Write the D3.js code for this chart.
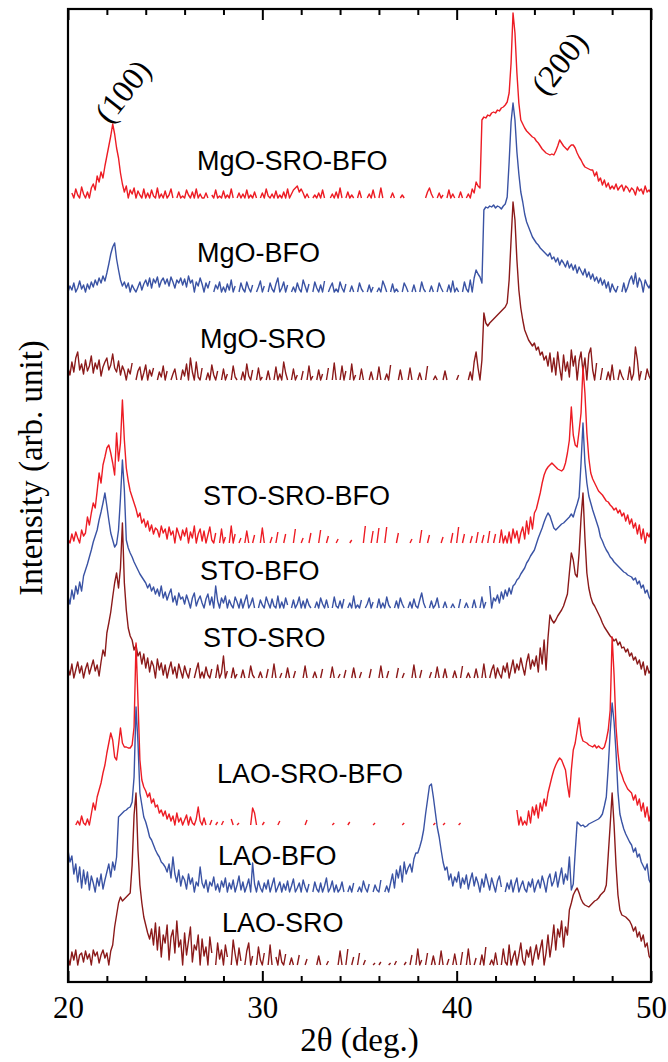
<!DOCTYPE html>
<html>
<head>
<meta charset="utf-8">
<script src="https://cdn.jsdelivr.net/npm/d3@7/dist/d3.min.js"></script>
<style>
  html, body { margin: 0; padding: 0; background: #fff; }
  svg { display: block; }
</style>
</head>
<body>
<div id="chart"></div>
<script>
// _ = no counts at that angle (the trace breaks there)
const _ = null;

// scan grid: 20.0 .. 50.0 deg, 0.1 deg step
const thetaStart = 20;
const thetaStep = 0.1;

const seriesNames = ['MgO-SRO-BFO', 'MgO-BFO', 'MgO-SRO', 'STO-SRO-BFO', 'STO-BFO', 'STO-SRO', 'LAO-SRO-BFO', 'LAO-BFO', 'LAO-SRO'];
const seriesColors = ['#ed1c24', '#3a53a4', '#8b1a1a', '#ed1c24', '#3a53a4', '#8b1a1a', '#ed1c24', '#3a53a4', '#8b1a1a'];
// vertical shift of each pattern (arb. unit)
const seriesOffsets = [784, 690, 602, 439, 374, 304, 157, 90, 17];

// intensities, one row per degree
const mgoSroBfo = [
  _,_,5,0,9,3,0,11,4,0,
  6,0,10,14,8,22,16,26,20,32,
  42,52,62,74,64,50,40,25,14,6,
  12,0,8,4,10,0,7,3,0,9,
  0,5,0,8,2,0,10,0,4,0,
  7,0,3,9,0,_,0,6,0,2,
  0,8,3,0,6,0,9,0,4,0,
  0,5,0,_,3,0,8,0,2,0,
  7,0,3,0,9,0,_,0,5,0,
  4,0,8,0,3,0,6,0,_,0,
  5,0,9,2,0,4,0,7,0,3,
  0,6,0,9,0,4,8,10,12,6,
  9,5,0,4,0,_,0,3,0,5,
  0,8,0,_,_,0,4,0,6,0,
  10,0,_,0,6,0,3,0,_,0,
  7,0,_,_,0,4,0,8,0,_,
  0,10,0,_,_,_,0,5,0,_,
  _,0,3,0,_,_,_,_,_,_,
  _,_,_,_,0,6,10,4,0,_,
  0,5,0,3,_,0,8,0,4,0,
  _,0,6,0,_,0,4,0,9,5,
  16,12,10,78,81,80,83,82,85,86,
  85,88,87,90,91,93,96,105,135,185,
  165,125,95,78,74,70,67,65,63,61,
  60,57,55,52,49,47,45,44,43,44,
  43,47,52,58,55,52,50,48,51,53,
  53,50,45,41,38,34,31,30,29,28,
  28,22,26,17,20,13,18,11,15,9,
  12,9,14,8,11,13,7,12,10,6,
  10,8,3,11,7,9,4,12,6,8,
  5
];

const mgoBfo = [
  0,6,2,9,0,4,11,3,7,0,
  8,3,10,5,12,7,14,9,16,11,
  19,28,38,45,49,33,22,12,6,10,
  4,9,0,7,3,0,5,10,2,8,
  12,6,14,4,13,9,15,5,11,14,
  8,13,6,15,10,4,12,9,14,7,
  13,5,16,9,12,0,10,6,14,8,
  0,9,4,11,_,0,7,3,10,0,
  5,0,8,2,12,0,6,_,0,9,
  3,0,10,4,0,7,_,0,5,11,
  0,6,_,0,9,3,0,8,14,0,
  4,10,0,7,_,0,5,0,9,3,
  0,12,6,0,8,_,0,10,4,0,
  7,0,11,_,0,5,9,0,3,0,
  10,4,0,8,_,0,6,0,_,0,
  9,3,0,_,0,7,0,5,_,0,
  4,0,11,6,0,_,0,8,0,3,
  0,_,0,9,5,0,_,0,7,0,
  _,0,10,3,0,_,0,6,0,_,
  0,9,4,0,_,0,7,0,11,0,
  4,0,_,0,10,3,0,12,0,14,
  22,18,15,9,82,85,84,86,85,87,
  84,86,85,83,86,88,95,130,170,189,
  172,140,118,100,90,78,70,65,60,55,
  52,49,47,44,42,40,38,36,39,33,
  35,30,34,27,32,29,25,31,24,28,
  22,27,19,25,21,17,23,15,20,13,
  18,11,15,9,14,7,12,4,10,0,
  8,3,0,6,_,0,9,0,5,12,
  16,8,19,5,14,10,0,12,7,4,
  9
];

const mgoSro = [
  12,5,18,8,22,28,10,16,6,20,
  9,14,24,7,17,11,20,4,13,18,
  22,10,15,26,12,8,19,5,14,9,
  0,11,6,17,_,0,9,13,0,7,
  15,0,10,4,12,_,0,8,3,14,
  0,9,_,0,6,11,0,_,0,10,
  4,16,0,22,8,0,18,3,0,12,
  _,0,7,0,15,5,0,9,_,0,
  11,0,6,_,0,14,3,0,_,0,
  8,0,16,4,0,10,_,0,12,0,
  3,_,0,9,0,_,0,13,0,6,
  0,18,7,0,_,0,11,0,5,_,
  0,9,_,0,14,0,4,_,0,10,
  0,6,_,0,12,_,0,17,0,_,
  0,14,0,9,_,0,16,0,5,_,
  0,11,0,_,_,0,8,0,_,0,
  13,0,_,0,6,0,15,_,0,_,
  0,10,0,_,_,0,12,0,_,_,
  0,7,0,_,0,14,_,_,0,4,
  0,_,_,0,9,0,_,0,_,_,
  0,5,_,_,_,_,0,8,0,18,
  28,12,0,20,67,57,54,57,59,61,
  63,65,67,69,71,73,77,100,140,178,
  160,120,90,72,60,50,45,40,37,34,
  37,30,33,25,28,20,24,14,27,8,
  22,5,28,12,0,25,9,18,3,30,
  14,24,0,19,28,8,22,0,26,32,
  10,0,17,_,0,12,_,0,8,0,
  15,0,_,0,10,4,0,_,0,13,
  0,6,33,20,0,9,_,0,11,4,
  0
];

const stoSroBfo = [
  4,0,9,2,11,5,0,13,7,10,
  26,18,30,40,35,52,70,60,78,86,
  95,98,90,80,68,110,82,100,143,103,
  75,62,52,46,40,34,26,30,20,24,
  16,22,12,18,9,15,13,6,17,10,
  14,4,16,8,12,0,15,9,3,13,
  7,15,0,11,5,17,0,9,14,2,
  12,0,8,16,3,0,10,_,0,14,
  0,6,_,0,17,0,9,_,0,5,
  _,0,12,0,_,0,8,_,_,0,
  15,0,_,_,0,6,_,0,11,_,
  _,0,9,_,_,_,0,14,_,_,
  0,5,_,_,0,10,_,_,_,0,
  13,_,_,0,7,_,_,_,0,4,
  _,_,_,_,_,0,3,_,_,_,
  _,_,0,17,_,_,0,12,_,0,
  15,_,_,0,16,_,_,_,_,0,
  10,_,_,_,_,_,0,4,_,_,
  _,0,13,_,_,0,8,_,_,_,
  _,_,0,6,_,_,_,0,10,_,
  0,16,_,0,9,_,_,0,7,_,
  0,11,_,0,8,_,0,12,_,0,
  9,_,0,13,0,7,0,11,0,14,
  5,12,0,10,16,4,22,9,26,14,
  30,34,42,50,60,68,73,76,78,80,
  78,76,74,73,72,74,80,90,103,136,
  108,98,96,112,130,176,150,110,85,70,
  64,60,56,52,50,48,45,42,41,38,
  36,33,35,30,33,27,30,22,28,19,
  24,15,20,9,18,4,14,0,10,6,
  12
];

const stoBfo = [
  12,4,18,9,22,14,26,17,32,38,
  44,51,58,66,72,78,88,96,105,115,
  102,88,75,68,61,64,78,110,148,118,
  68,60,55,51,46,42,38,34,31,28,
  25,20,24,17,21,14,19,12,22,10,
  16,8,14,19,6,12,3,15,9,11,
  4,13,7,0,10,15,2,8,12,5,
  0,9,14,3,11,0,22,7,0,10,
  5,12,0,8,3,0,11,6,0,9,
  0,7,13,0,4,10,0,_,0,8,
  3,0,11,5,0,9,2,0,12,0,
  6,0,10,3,_,0,8,0,4,11,
  0,7,0,9,3,0,_,0,6,0,
  10,4,0,8,0,_,0,11,2,0,
  7,0,9,_,0,5,0,12,0,3,
  0,8,_,0,4,10,0,6,_,0,
  9,0,5,0,11,3,0,_,0,7,
  0,10,4,0,_,0,6,0,9,2,
  0,8,15,5,0,_,0,7,0,3,
  10,0,_,0,6,0,_,0,4,0,
  _,0,9,_,0,5,0,_,0,8,
  0,_,0,11,0,6,_,22,0,10,
  7,13,5,16,9,18,12,20,14,22,
  24,28,30,34,37,40,45,48,52,55,
  58,64,70,75,80,86,91,95,92,86,
  80,78,80,82,84,85,87,89,91,94,
  91,98,104,111,145,185,145,125,112,105,
  98,92,86,80,71,67,62,58,55,51,
  49,46,44,42,40,38,36,35,33,32,
  31,28,30,24,27,20,23,15,18,11,
  8
];

const stoSro = [
  10,3,14,0,8,16,5,12,0,9,
  15,4,11,18,7,13,2,16,28,22,
  45,55,66,81,95,105,90,110,155,95,
  68,50,42,38,28,33,22,26,14,24,
  10,20,6,17,12,0,19,8,15,3,
  13,0,9,16,4,11,0,14,7,0,
  12,5,0,10,_,0,8,15,0,6,
  0,11,3,0,9,_,0,13,0,5,
  22,0,7,_,0,10,0,4,_,0,
  8,0,_,0,12,3,0,_,0,6,
  0,_,0,9,_,0,14,0,_,0,
  5,_,0,10,0,_,0,7,_,0,
  _,0,12,0,_,_,0,6,0,_,
  0,9,_,0,_,0,11,0,_,0,
  4,_,0,8,_,_,0,10,0,_,
  0,6,_,0,_,0,9,_,0,_,
  0,12,0,_,0,7,_,0,_,0,
  10,_,0,5,_,0,_,0,13,0,
  _,0,8,_,0,_,0,6,_,0,
  11,0,_,0,9,0,_,_,0,7,
  0,_,0,12,_,0,5,0,_,0,
  9,0,_,0,14,0,_,0,8,13,
  0,10,4,0,12,6,15,0,9,18,
  5,14,8,20,11,3,16,24,9,18,
  12,22,6,30,14,38,8,40,63,58,
  55,58,62,65,68,72,78,84,105,125,
  118,104,101,125,160,185,140,105,90,81,
  75,72,68,64,60,55,51,48,45,42,
  40,37,39,33,36,30,31,26,29,22,
  25,18,21,14,18,9,16,3,12,5,
  8
];

const laoSroBfo = [
  _,_,_,_,0,4,0,9,2,0,
  6,0,11,22,15,28,35,42,52,60,
  72,82,92,85,68,65,80,97,82,78,
  78,77,77,80,98,182,125,65,45,38,
  34,28,32,22,26,18,20,12,15,9,
  14,6,11,4,9,0,12,3,7,0,
  5,10,0,8,2,0,6,18,4,0,
  7,0,_,0,5,_,0,3,_,0,
  4,_,0,_,6,0,_,0,2,_,
  _,0,_,_,0,17,12,0,_,_,
  0,3,_,_,0,_,_,_,0,4,
  _,_,_,0,_,_,_,_,0,_,
  _,_,0,5,_,_,_,_,_,0,
  _,_,_,_,_,_,0,2,_,_,
  _,_,_,_,0,3,_,_,_,_,
  _,_,_,_,_,_,_,0,2,_,
  _,_,_,_,_,_,_,_,_,_,
  _,_,0,2,_,_,_,_,_,_,
  _,_,_,_,_,_,_,_,0,2,
  _,_,_,0,2,_,_,_,_,_,
  _,0,2,_,_,_,_,_,_,_,
  _,_,_,_,_,_,_,_,_,_,
  _,_,_,_,_,_,_,_,_,_,
  _,15,0,8,0,4,0,14,2,18,
  10,20,7,22,14,26,19,32,40,48,
  55,60,64,67,65,60,55,40,28,55,
  75,82,95,107,90,84,83,82,80,79,
  78,80,77,79,77,76,78,85,95,115,
  188,150,98,72,55,50,44,40,36,34,
  32,25,30,20,26,14,22,8,18,4,
  12
];

const laoBfo = [
  42,30,36,18,28,10,25,4,22,8,
  20,2,16,9,0,14,6,18,3,12,
  20,28,15,30,22,35,75,77,79,81,
  82,84,85,90,115,185,150,99,87,75,
  70,63,55,52,47,42,38,35,30,28,
  25,20,28,14,35,18,10,22,6,16,
  12,3,18,8,14,0,10,6,25,9,
  4,12,0,10,6,15,2,8,0,11,
  5,14,0,9,3,12,0,7,16,2,
  10,0,6,13,0,29,8,0,11,4,
  0,9,3,12,0,7,14,0,5,10,
  0,8,2,11,0,6,13,0,4,9,
  0,12,5,0,8,_,0,10,3,0,
  9,0,6,14,0,4,11,0,7,0,
  3,10,0,_,0,6,0,9,_,0,
  5,0,11,4,0,8,_,0,7,2,
  0,12,_,0,6,0,9,18,4,22,
  14,26,10,30,18,24,28,20,33,39,
  39,45,52,62,78,92,106,108,95,80,
  65,55,42,30,22,25,12,18,6,15,
  10,20,4,14,8,17,3,12,19,6,
  15,9,0,13,5,18,10,2,14,7,
  0,11,16,5,_,0,9,3,12,0,
  8,14,0,6,11,3,0,10,5,13,
  0,7,12,4,16,9,0,13,18,6,
  11,20,5,15,24,8,18,12,35,2,
  8,40,70,68,66,67,65,66,68,69,
  70,71,72,73,75,78,86,95,125,160,
  189,170,140,100,78,70,63,58,54,50,
  47,40,44,35,38,30,26,22,28,12,
  8
];

const laoSro = [
  8,0,13,5,15,0,10,12,3,14,
  6,11,0,15,9,13,2,10,15,7,
  12,0,14,20,38,50,62,68,64,66,
  68,70,72,100,150,172,115,80,62,48,
  40,32,26,36,20,42,15,38,8,30,
  22,40,5,28,35,12,44,18,25,0,
  32,10,24,38,3,20,15,30,0,26,
  9,18,0,28,12,_,0,22,6,15,
  0,20,8,_,0,25,11,0,17,4,
  _,0,14,22,0,9,_,0,18,5,
  0,12,_,0,20,0,_,8,0,15,
  3,0,11,_,0,7,0,_,0,10,
  _,_,0,6,_,0,_,_,0,9,
  0,_,_,0,4,_,0,_,_,0,
  14,0,_,0,16,_,0,8,_,0,
  12,_,0,5,_,0,_,0,2,_,
  0,3,_,0,_,0,2,_,0,4,
  _,0,_,0,3,_,0,10,_,0,
  16,0,5,_,0,12,_,0,9,0,
  _,0,14,0,_,0,6,_,0,11,
  0,_,0,13,_,0,16,0,_,0,
  7,_,0,10,0,18,_,0,5,0,
  12,0,_,0,16,3,0,20,0,8,
  14,0,10,22,5,0,15,8,18,0,
  11,20,6,16,25,0,12,30,8,22,
  40,15,36,28,44,18,38,30,55,62,
  70,74,77,72,66,62,60,59,58,60,
  62,64,65,67,70,72,74,80,110,140,
  172,140,100,70,55,50,49,48,46,44,
  40,34,38,28,33,24,30,18,22,9,
  6
];

const patterns = [mgoSroBfo, mgoBfo, mgoSro, stoSroBfo, stoBfo, stoSro, laoSroBfo, laoBfo, laoSro];

// where each name sits: [2theta, height above its own baseline]
const labelAt = [[26.64, 28], [26.64, 30], [26.79, 32], [26.95, 38], [26.79, 28], [26.95, 31], [27.67, 42], [27.72, 27], [27.93, 33]];
// reflection marks: [text, 2theta, intensity]
const reflections = [['(100)', 22.8, 891], ['(200)', 45.27, 919]];

const majorTicks = [20, 30, 40, 50];
const minorTicks = [22, 24, 26, 28, 32, 34, 36, 38, 42, 44, 46, 48];

const width = 668;
const height = 1062;
const margin = { top: 9, right: 17, bottom: 80, left: 68 };

const x = d3.scaleLinear().domain([20, 50]).range([margin.left, width - margin.right]);
const y = d3.scaleLinear().domain([0, 973]).range([height - margin.bottom, margin.top]);

const svg = d3.select('#chart')
  .append('svg')
  .attr('width', width)
  .attr('height', height)
  .style('background-color', '#fff');

svg.append('defs').append('clipPath')
  .attr('id', 'plot-clip')
  .append('rect')
  .attr('x', margin.left)
  .attr('y', margin.top)
  .attr('width', width - margin.left - margin.right)
  .attr('height', height - margin.top - margin.bottom);

const line = d3.line()
  .defined((d) => d[1] !== null)
  .x((d) => x(d[0]))
  .y((d) => y(d[1]));

// dark red first, then red, then blue on top (as in the original)
const drawOrder = [2, 5, 8, 0, 3, 6, 1, 4, 7];

svg.append('g')
  .attr('clip-path', 'url(#plot-clip)')
  .selectAll('path')
  .data(drawOrder)
  .join('path')
  .attr('d', (k) => line(patterns[k].map((v, i) => [thetaStart + i * thetaStep, v === null ? null : v + seriesOffsets[k]])))
  .attr('fill', 'none')
  .attr('stroke', (k) => seriesColors[k])
  .attr('stroke-width', 1.4)
  .attr('stroke-linejoin', 'round');

// sample names
svg.append('g')
  .selectAll('text')
  .data(seriesNames)
  .join('text')
  .attr('x', (d, i) => x(labelAt[i][0]))
  .attr('y', (d, i) => y(seriesOffsets[i] + labelAt[i][1]))
  .attr('font-family', '"Liberation Sans", Arial, sans-serif')
  .attr('font-size', 27)
  .attr('fill', '#000')
  .text((d) => d);

// (100) / (200)
svg.append('g')
  .selectAll('text')
  .data(reflections)
  .join('text')
  .attr('transform', (d) => `translate(${x(d[1])},${y(d[2])}) rotate(-52)`)
  .attr('text-anchor', 'middle')
  .attr('dy', '0.35em')
  .attr('font-family', '"Liberation Serif", "Times New Roman", serif')
  .attr('font-size', 32)
  .text((d) => d[0]);

// axes: ticks point inward on bottom and top
const bottom = height - margin.bottom;
const xAxisMajor = d3.axisBottom(x).tickValues(majorTicks).tickSize(-11).tickPadding(14).tickFormat(d3.format('d'));
const xAxisMinor = d3.axisBottom(x).tickValues(minorTicks).tickSize(-6).tickFormat('');
const topMajor = d3.axisTop(x).tickValues(majorTicks).tickSize(-11).tickFormat('');
const topMinor = d3.axisTop(x).tickValues(minorTicks).tickSize(-6).tickFormat('');

const gx = svg.append('g').attr('transform', `translate(0,${bottom})`).call(xAxisMajor);
svg.append('g').attr('transform', `translate(0,${bottom})`).call(xAxisMinor);
svg.append('g').attr('transform', `translate(0,${margin.top})`).call(topMajor);
svg.append('g').attr('transform', `translate(0,${margin.top})`).call(topMinor);

svg.selectAll('.domain').remove();
svg.selectAll('.tick line').attr('stroke', '#000').attr('stroke-width', 2);
gx.selectAll('.tick text')
  .attr('font-family', '"Liberation Serif", "Times New Roman", serif')
  .attr('font-size', 31)
  .attr('fill', '#000');

// frame
svg.append('rect')
  .attr('x', margin.left)
  .attr('y', margin.top)
  .attr('width', width - margin.left - margin.right)
  .attr('height', height - margin.top - margin.bottom)
  .attr('fill', 'none')
  .attr('stroke', '#000')
  .attr('stroke-width', 2.2);

// axis titles
svg.append('text')
  .attr('x', (margin.left + width - margin.right) / 2)
  .attr('y', 1051)
  .attr('text-anchor', 'middle')
  .attr('font-family', '"Liberation Serif", "Times New Roman", serif')
  .attr('font-size', 33)
  .text('2θ (deg.)');

svg.append('text')
  .attr('transform', 'translate(42,468) rotate(-90)')
  .attr('text-anchor', 'middle')
  .attr('font-family', '"Liberation Serif", "Times New Roman", serif')
  .attr('font-size', 33)
  .text('Intensity (arb. unit)');
</script>
</body>
</html>
